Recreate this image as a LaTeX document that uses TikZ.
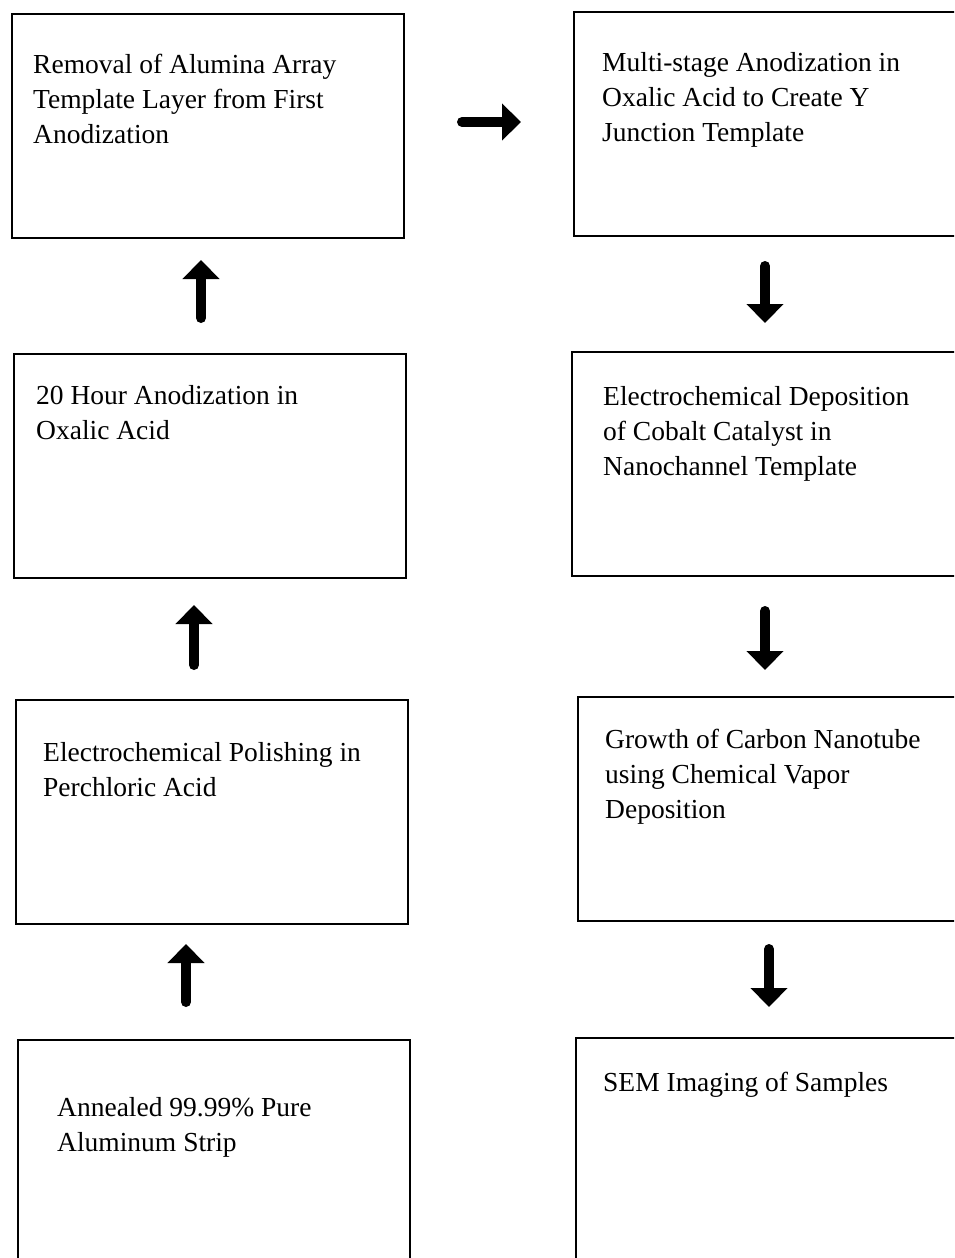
\documentclass[tikz,border=0pt]{standalone}
\usepackage{fontspec}
\setmainfont{Liberation Serif}
\usetikzlibrary{arrows.meta}
\begin{document}
\begin{tikzpicture}[x = 1pt, y = -1pt,
		stepbox/.style = {draw, line width = 1.6pt, minimum width = 392pt, minimum height = 224pt, anchor = north west, inner sep = 0pt, outer sep = 0pt},
		steptext/.style = {anchor = base west, inner sep = 0pt, text width = 360pt, align = flush left, font = \fontsize{27.5}{35}\selectfont},
		fatarrow/.style = {line width = 10pt, line cap = round, -{Triangle[width = 36pt, length = 19pt]}}]
	\useasboundingbox (0,0) rectangle (954,1258);
	\clip (0,0) rectangle (954,1258);
	% left column, bottom to top
	\node[stepbox] (l4) at (18,1040) {};
	\node[stepbox] (l3) at (16,700) {};
	\node[stepbox] (l2) at (14,354) {};
	\node[stepbox] (l1) at (12,14) {};
	% right column, top to bottom
	\node[stepbox] (r1) at (574,12) {};
	\node[stepbox] (r2) at (572,352) {};
	\node[stepbox] (r3) at (578,697) {};
	\node[stepbox] (r4) at (576,1038) {};
	% texts
	\node[steptext] (t4) at (57,1116) {Annealed 99.99\% Pure\\Aluminum Strip};
	\node[steptext] (t3) at (43,761) {Electrochemical Polishing in\\Perchloric Acid};
	\node[steptext] (t2) at (36,404) {20 Hour Anodization in\\Oxalic Acid};
	\node[steptext] (t1) at (33,73) {Removal of Alumina Array\\Template Layer from First\\Anodization};
	\node[steptext] (u1) at (602,71) {Multi-stage Anodization in\\Oxalic Acid to Create Y\\Junction Template};
	\node[steptext] (u2) at (603,405) {Electrochemical Deposition\\of Cobalt Catalyst in\\Nanochannel Template};
	\node[steptext] (u3) at (605,748) {Growth of Carbon Nanotube\\using Chemical Vapor\\Deposition};
	\node[steptext] (u4) at (603,1091) {SEM Imaging of Samples};
	% arrows
	\draw[fatarrow, shorten < = 38pt, shorten > = 20pt] ([xshift = -28pt]l4.north) -- ([xshift = -26pt]l3.south);
	\draw[fatarrow, shorten < = 35pt, shorten > = 27pt] ([xshift = -18pt]l3.north) -- ([xshift = -16pt]l2.south);
	\draw[fatarrow, shorten < = 36pt, shorten > = 22pt] ([xshift = -9pt]l2.north) -- ([xshift = -7pt]l1.south);
	\draw[fatarrow, shorten < = 58pt, shorten > = 53pt] ([yshift = 4pt]l1.east) -- ([yshift = 2pt]r1.west);
	\draw[fatarrow, shorten < = 30pt, shorten > = 29pt] ([xshift = -5pt]r1.south) -- ([xshift = -3pt]r2.north);
	\draw[fatarrow, shorten < = 35pt, shorten > = 27pt] ([xshift = -3pt]r2.south) -- ([xshift = -9pt]r3.north);
	\draw[fatarrow, shorten < = 28pt, shorten > = 31pt] ([xshift = -5pt]r3.south) -- ([xshift = -3pt]r4.north);
\end{tikzpicture}
\end{document}
